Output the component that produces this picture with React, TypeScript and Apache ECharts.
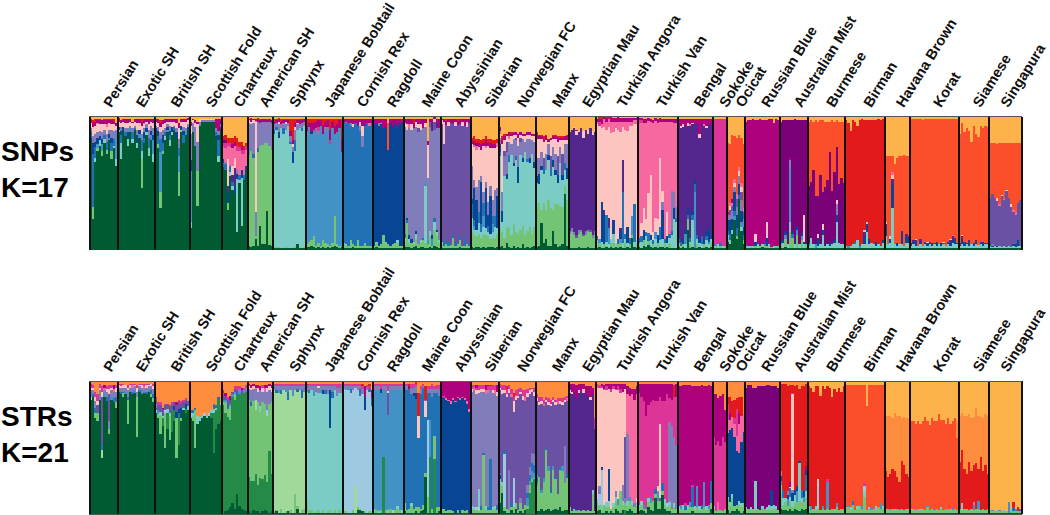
import React, { useEffect, useRef } from "react";
import * as echarts from "echarts";

const breeds = ["Persian","Exotic SH","British SH","Scottish Fold","Chartreux","American SH","Sphynx","Japanese Bobtail","Cornish Rex","Ragdoll","Maine Coon","Abyssinian","Siberian","Norwegian FC","Manx","Egyptian Mau","Turkish Angora","Turkish Van","Bengal","Sokoke","Ocicat","Russian Blue","Australian Mist","Burmese","Birman","Havana Brown","Korat","Siamese","Singapura"];
const sampleCounts = [12,16,15,14,11,11,14,16,13,13,16,13,12,16,14,12,18,17,15,6,8,15,12,16,17,11,21,13,14];

// Clusters, listed from the bottom of each bar to its top.
const snpColors = ["#005a32","#74c476","#7bccc4","#4292c6","#2171b5","#084594","#807dba","#6a51a3","#54278f","#fcc5c0","#f768a1","#dd3497","#ae017e","#7a0177","#e31a1c","#fc4e2a","#feb24c"];
const strColors = ["#005a32","#238b45","#74c476","#a1d99b","#7bccc4","#9ecae1","#4292c6","#2171b5","#084594","#807dba","#6a51a3","#54278f","#fcc5c0","#f768a1","#dd3497","#ae017e","#7a0177","#e31a1c","#fc4e2a","#fd8d3c","#feb24c"];

// One string per run of bars: "count:" + cluster letter + percent. A run without count fills the breed.
const snpSamples: string[][] = [
["a84e4g3j4m2o1q2","a23b9e40f8g5j7m3o2q3","a66c3e8f4g6j6m3o2q2","a74b2d3f5g4j6k1m2o1q2","a78c4f3g4j5m3o1q2","a70b4d5f4g5j6m3q3","a80c3e3g4j4m3o1q2","a72b3e6g6j5k2m3o1q2","a82d2f3g3j5m2o1q2","a68b6e6f4g6j4m3o1q2","a76c2e5g6j5m2o2q2","a63c5d20g2j3m2q5"],
["a88c2f2j4m2o1q1","a68c12e6f3g3j3m2q3","a90f2j4m2q2","a85e3g3j4m3q2","a78c5f5g3j4m3q2","a88d3g2j3m2q2","a80c3e5g3j4m1q4","a90e1g2j3m2q2","a76c4f6g4j5m3q2","a84d3f3j5m3q2","a46b22c6e8g5j6m3o2q2","a80e4f4g3j3k1m3q2","a86c2f3g3j2m2q2","a70c6e8g6j4m4q2","a82d4f3g4j3m2q2","a66c6d10f4g5j4m3q2"],
["a88f3g2j3m2q2","a76b3e6f4g3j3m3q2","a31b12d30e10g5j4m3o2q3","a72b2e6f6g4j4m3q3","a82c3e3g3j4m3q2","a88d2f2g2j2m2q2","a78c4e4f3g4j3m2q2","a86c2f4j4m2q2","a90e2g1j3m2q2","a84f4g3j4m3q2","a40b18d12e6g7j8m4q5","a88c2f3j3m2q2","a80e6f3g3j4m2q2","a86d3g2j5m2q2","a90f2g2j3m2q1"],
["a16c5d38f8g20j6m3q4","a88g7j2m1q2","a78g14j3m2q3","a33b26g22j13m2q4","a93g3j2q2","6:a96g1j1q2","a85e3g3m7q2","a66c4e12f4g3m9q2","a90f2g2m4q2","a69c3e14g4m8q2","a88g3m7q2"],
["a62e3f3k9l3n2o3q15","a60e4g2k10l4n2o4q14","a30b5f8i5j20k10l2o4q16","a55c3e5k14l3o4q16","a45c3e3i5j7k13m3o5q16","a42i13f6j8k9m3o4q15","a13c40f4g3k14l4o6q16","a50c2e4k18l3o4q19","a18c36f6k12l3m3o3q19","a52e4k16l3o3q22","a60f3k12l3o2q20"],
["a3b68g24j2m1q2","a2b72d2g18j2m2o1q1","a3b66e3g23j2m1q2","a8b2j66g18k1m1q2","a3b70e3g20m2o1q1","a18b60g17m2o1q2","a4b74g17m2q2","a4b76g16m2q2","a29b51g16m1o1q2","a3b74g18m2q2","a3b72g20m2q3"],
["a1b1c85e3g4m2o2q2","a1b1c88e2g3m2o1q2","a1b1c82f4g6j2m2o1q1","a1c90g3m2o2q2","a1c86e4g4m2o1q2","a1b1c88g4j2m1o1q2","a1c92g2m2o1q2","a1c78e2g4m4o9q2","a1c64f8g4j2m3o16q2","a1b1c72e8g8j2m3o3q2","a4c86g4j1m2o1q2","a1c90g3m3o1q2","a1c88e2g4m2o1q2","a1b1c91g3m2q2"],
["a2b2d82g3m4o5q2","a2b4d84g2m3o3q2","a3b4d80f2m6o3q2","a2b8d76g2l2m5o3q2","a1b2d86g2m5o2q2","a2b3d82g2l3m5o1q2","a1b2d90m4o1q2","a2b5d80m6o5q2","a1b4d84g3m4o2q2","a2b2d88m5o1q2","a1b2d76l3m8o8q2","a2b3d86m5o2q2","a3b22d62m6o5q2","a2b2d84m6o4q2","a1b2d88m6o1q2","a2b1d70m10o15q2"],
["a1b3c1e90m3q2","a1b2c1e91g1m2q2","a1b2e92m3q2","a1b6e86g2m3q2","a2b2e88j2m4q2","a1b2e92m3q2","a1b6e86m5q2","a1b2e86g4j3m2q2","a1b2e74g8j8m5q2","a1b4e88m5q2","a1b2e92m3q2","a1b2e90k2m3q2","a1b2e92m3q2"],
["a1b2f91m4q2","a2b3c1f88m4q2","a1b2f90g2m3q2","a1b3f90k1m3q2","a1b10f80m7q2","a1b4c1f86m6q2","a1b3f71p20q5","a1b2f92m3q2","a1b3f88m6q2","a1b4f89m4q2","a1b4c2f86m5q2","a1b2f91m4q2","a1b2f92m3q2"],
["a2b3c4e3g80j3m3q2","a2b18e2f2g66j4m4q2","a2b3c3f3g80k3m4q2","a1b4f3g82j4m4q2","a2b2c2g85m4o3q2","a3b5c4f2g78j4m2q2","a1b3g84h3j3m4q2","a2b3c2g83j4m4q2","a2b5e2g82m7q2","a1b4c43d2g42j3m3q2","a1b3d3g46j24q18m3","a2b8c4g78h4m2q2","a1b2d5f3g78i6m3q2","a3b12c6e3g66h6j2m2","a2b8c3f2g76i5m2q2","a1b4c2g84m7q2"],
["a1b3c2e2h86j3m1q2","a1b2e2h74j17m2q2","a1b3e2h86m3o1q2","a1b2e3h87j3m2q2","a1b2h90m3q2","a1b8e3h82m4q2","a1b2e2h88j3m2q2","a1b3e1h88m3o1q2","a2b5e3h84m4q2","a1b2h90j3m2q2","a1b2e6h84m5q2","a1b3h88j4m2q2","a1b2e2h90m3q2"],
["a2b12c10e10f4g25j16m2o3q16","a1b10c4d3e5f25g6j25k2m3o4q15","a2b8c5f22g10j28k3n2o3q17","a2b10c8e8g24j25m3o3q17","a1b8c4e6f32g4j20m4o3q18","a2b9c6d8e10g8j35m2o3q17","a1b10c5f30g5j25k2m4o3q15","a2b8c3e5f8g10j42m2o3q17","a2b6c4f28g8j28m4o3q17","a2b7c4d6e6g12j39m3o3q18","a1b8c8e8g20j31m3o3q18","a2b10c4f24g6j31k3o3q17"],
["a2b14c54e3f6g5j3k2m2o1q8","a3b10c8f8g14j36m3o3q15","a1b8c46g15h4j8m3o2q13","a5b12c36f4g16h8j4m2q13","a2b14c50e5g10j2k2m3q12","a1b10c60g8j6m2o1q12","a3b16c44f2g18j3m2q12","a1b12c54e3g12h2j2m2q12","a2b10c38f12g16j6m3q13","a1b14c56g10h3j2m2q12","a4b14c48f3g14j2m2q13","a1b10c62g8j4m2q13","a2b12c52e2g15j3m2q12","a1b16c48f4g14j3m2q12","a2b10c60g10j3m2q13","a3b14c44f5g15j4m2q13"],
["a2b30c18f5g14j14m3o2q12","a3b32c14f8g12j14m2o1q14","a20b10c30f3g10j10m2o1q14","a5b30c22e4h8j12m2o2q15","a8b22c30g12j10m3o1q14","a3b34c30f4g8j2m2q17","a3b28c24e5h10j12m2q16","a14b16c32f5g10j6m2o1q14","a4b30c22f4g12j11m2o1q14","a2b32c16f6h14j11m3o1q15","a3b30c32g12j5m2o1q15","a4b28c20f4h16j10m2o1q15","a42b6c12e5g14j3m3q15","a3b34c16f8g18j3m3o1q14"],
["a1b10c1g2i74q12","a1b12g3i74q10","a1b10g2i78j1q8","a1b8h2i75j3m1q10","a2b10g3i73j1q11","a1b12g2i76q9","a1b9h2i72j5q11","a1b10g3i76q10","a2b11g2i72j3q10","a1b12h2i76q9","a1b8g2i75j3q11","a1b10g3i74q12"],
["a1b2c4e3j84k2m2q2","a2b3d3j85l3m2o2","a1c5f30j55k3m4o2","a1b3f22i4j62k6m2","a2b1c3e20j64k6m3o1","a1c3d12i8j68k6o2","a2b3c3j78k8m4","a1b4c7f10j66k8m3q1","a2c3j86k5m3q1","a1b3e4j82k6m4","a2b3d3f5i3j72k8m3q1","a1c4e38i24j25k4m3q1","a1b4c3e4j78k6m3q1","a2c3f12j72k7m3q1","a1b3e5j84k3m3q1","a9b2d14j68k3m3q1","a2c4e28j60k3m2q1","a1b3c3j87k3m2q1"],
["a2b3e4k86l2m2q1","a1c5e4j10k75l2m2q1","a3b4f8j16k64m3q2","a2c8e3j10k72m3q2","a3b3e6j30k53m2q1","a2c5f4j45k40m2q2","a1b3e3j6k82m2q3","a2c6d5j10k72m2q1","a1b4f6j12k72m3q2","a2c5e10j52k27m3q1","a2c6f22g6j8k52m2q2","a1b4e3k88m2q2","a2c3f5j18k68m2q2","a1b3c5e3k84m2q2","a1c10e3g30k52m2q2","a1c22g12f8k52m3q2","a1c20e3g8k63m3q2"],
["a2b3e3i87m3q2","a1c2e3i85j2m5q2","a2b2f4i84j2m4q2","a1c3d8f3i78m5q2","a15b8e3f5i62j2m3q2","a1b3c2e3i84k1m4q2","a2c20e4f3i65j1m3q2","a1d42e6f3i42m4q2","a1b3c4e3i83m4q2","a2c3f3i76j3m11q2","a1c3e6i84m4q2","a1b3f3i86k1m4q2","a2c5e3f3i78j2m5q2","a1c3f10d2i78m4q2","a2b3c3f3i83m4q2"],
["a1c2e1l94q2","a1b2g1l94q2","a1c3l94q2","a1b2e2l93q2","a1c2l95q2","a1b2l95q2"],
["a6b3c2e3f8g3p52m1l2q20","a4c3e5f10h4g4j3k2p44q21","a12c3f8g6h4k2m3p48q14","a22d3e4f14g4j3k3p32q15","a8b2e6f10h6g6k4p42q16","a38e3f8g6j4k3p24q14","a14c3d4f8g8h6j4k3p34q16","a4b3e4f6g6h5k3p48q21"],
["a1b2e1m92q4","a1c2m94q3","a1b1c1m94q3","a1c2m95q2","a1b2j6f3m85q3","a1c3m93q3","a1b2m95q2","a2c2m93q3","a1b2d1m93q3","a1b2j12f6m76q3","a1c3m94q2","a1b1m96q2","a1c2m92q5","a1b2m95q2","a1b2m94q3"],
["a1b3e2n90q4","a1c4f2n90q3","a2b6d3f3n83q3","a1c3n93q3","a1b12c8d40g6m2n28q3","a1b8e3f2n83q3","a1c3f2n92q2","a1b10d4f3n79q3","a1c3n93q3","a1b6d3f3n84q3","a1c3j20f2n71q3","a1b3n93q3"],
["a1c2d1n44p48q4","a1c8n42p46q3","a1c3n56p36q4","a1d3n36p57q3","a1c2f6j3n28p56q4","a1c3n52p41q3","a1c10j4f4n24p54q3","a1c2n44p49q4","a1c3n48p44q4","a1c2f2n68p23q4","a1c3n40p53q3","a1c4f3n50p38q4","a1c20g8j3f5n40p20q3","a1c4n44p47q4","a1c3n50p42q4","a1c3n46p46q4"],
["a1c2o94q3","a1d2o92q5","a1c2o86q11","a1c3o93q3","a1c3e2o90q4","a1c6o86q7","a1d2o94q3","a1c3o94q2","a1c3f6i3j2o82q3","a1c12f6j2o76q3","a1c3f4o89q3","a1c4o92q3","a1c3o93q3","a1c2f3o91q3","a1c3o94q2","a1c2o94q3","a1c4f2o91q2"],
["a1c9f6i3j2p49q30","a1c3p66q30","a1c4f3j2p60q30","a1c30f18i4j3k2p12q30","a1c3p60q36","a1c2f2p64q31","a1c3p66q30","a1c3f8i2p56q30","a1c2p68q29","a1c4f4i3p58q30","a1c4f5p60q30"],
["a1c2f1i1p93q2","a1c3f2i1p91q2","a1c2f3j1i1p90q2","a1c2p95q2","a1c3f2i2p90q2","a1c2p94q3","a1c3i1f1p93q2","a1c2f2j1p92q2","a1c3f1i1p92q2","a1c2i1f1p93q2","a1c3f1p93q2","a1c2f2i1p92q2","a1c3p94q2","a1c2f1i1p93q2","a1c3f1j1p92q2","a1c2p95q2","a1c3f1i1p92q2","a1c2f3i1j1p90q2","a1c4f2i3k1p87q2","a1c3f3i2p89q2","a1c3f1p93q2"],
["a1c2f1i1p82q13","a1c3f4i2j1p84q5","a1c2f1i2p82q12","a1c3f1p86q9","a1c2f3i1p82q11","a1c3p77q19","a1c2f1i1p88q7","a1c3f2i1p80q13","a1c2p80q15","a1c3f1i1p87q7","a1c2f1i2p85q9","a1c3f1p88q7","a1c3f1p87q8"],
["a1c2f1h35p41q20","a1c1f1h38g1p38q20","a1c2h36p41q20","a1c1f1h34j2p41q21","a1c2h30k1p46q20","a1c1h38j1p39q20","a1c2h34k1p42q20","a1c1h42j1p35q20","a1c2h36p41q20","a1c1h30j2p46q20","a1c2f1h24k2p50q20","a1c1f2h22k2p52q20","a1c2f4h28p45q20","a1c2h34p43q20"],
];

const strSamples: string[][] = [
["a86d2g2j3m2o2r1t2","a88h2j3m2o2t3","a72c4h4j5m3o4t8","a70c6k6m3o5t10","a86g3j4m2o3t2","a42d6h4k36m4o4t4","a88g2j3n2p2t3","a85h3j4m2o2t4","a60c4k20j6m4o3t3","a86g3j4m2o2t3","a84h3j5n2p3t3","a80c4h4j4m3o2t3"],
["a92g1j2m2o1t2","a90h2j3m1o2t2","a88c3h1j3m2o1t2","a90g2j3m2t3","a68c18h2j5m2o2t3","a92j3m2o1t2","a90h2j3n2o1t2","a91g2j3m1o1t2","a58c30j4m3o2t3","a92h1j3m1o1t2","a90g3j2m2o1t2","a91j3n2o2t2","a90h2j3m2o1t2","a92g1j3m1o1t2","a88c2h3j3m2t2","a84c3h3j4m2o2t2"],
["a76e2h2j3k3o1r1t12","a72c3g3k4o2t16","a60c14e3k5o2t16","a66b6e2k5p1t20","a50c26f2k4o1t17","a64b12e3k4t17","a56c18e2k5o1t18","a62b16k4o2t16","a70b8i3k3t16","a42c30i5k5p2t16","a52b24i3k5o2t14","a70c2i8k3o2t15","a78e2k4o2t14","a76b3i4k3o1t13","a78e3k4t15"],
["a72e2f2h2t22","a70c4h2e2t22","a50c28h2t20","a68e6t26","a70e3t27","a72e2t26","a74f2t24","a72e2t26","a74f2t24","a72b4e2t22","a46b30e3h3o1t17","a64b14e2h2t18","a68b18h2t12","a70b12e2t16"],
["b82c2g2k3o2r2t7","a2b74c8g2k3p2t9","a3b70c6h3k4o2t12","a5b66c10g2k3p3t11","a8b80g2k2t8","a4b82c4g2k2o2t4","a15b74h2k2o3t4","a6b84g2j2o2t4","a4b86k3p2t5","a3b88j2o2t5","a2b90g1j2o2t3"],
["a2b26c58g2j6m2o1p1t2","a1b24c56h3j9m2p2t3","a3b22c60j9m2p2t2","a2b28c48d8j8n1p2t3","a2b20c62j8m3p2t3","a1b26c50e4j12p3t4","a2b24c58j8m3o2t3","a3b26c54j9n3p2t3","a2b22c50f4j14m3p2t3","a1b46c36j10m3p2t2","a2b28c54j8m3p2t3"],
["a1c2d90j3o2t2","a2c1d88h2j3o2t2","a1d90g2j3o2t2","a1c3d86h3j3o2t2","a1d92j3o2t2","a1c1d90g2j2o2t2","a2d84h6j4o2t2","a1c2d90j3o2t2","a1d88g4j3o2t2","a1c14d78j3o2t2","a4c2d86h2j2o2t2","a1d92j3o2t2","a1c2d84h6j3o2t2","a1c3d88j4o2t2"],
["c10e82j3o2r1t2","a1c2e88h2j3o2t2","a1c2e90j3o2t2","a1e88g3j4o2t2","a1c1e90j4o2t2","a1c2e88j4m1o2t2","a1e90g2j3o2t2","a1c2e87i3j3o2t2","a1e89h3j3o2t2","a1c1e88j6o2t2","a1c2e62i28j3o2t2","a1e86h5j4o2t2","a1c2e90j3o2t2","a1e88j6o3t2","a1c2e88j4o3t2","a1e90j5o2t2"],
["a1c1f92j2o2t2","a1c1d1f90j3o2t2","a1f92g2j1o2t2","a1f90h3j2o2t2","a1c2f90j3o2t2","a1d20f74j1o2t2","a3c2f88j3o2t2","a3c1f84h5j2o2t2","a2f88j4o2r2t2","a1c1f76i10p8t4","a1f92j2o2t3","a1c1f90h2o2r2t2","a1f80h6p6u7"],
["a1c1e2g90j2o2t2","a1c2g90j3o2t2","a1e1g91j3o2t2","a1c2g88i3o4t2","a1b42g50j3o2t2","a1c2g89j4o2t2","a1e2g70k16m2o5t2","a1c3g89j3o2t2","a1d2g90j3o2t2","a1c2g90j3o2t2","a1c3e2g87j3o2t2","a1c2g90j3o2t2","a1e2g89j4o2t2"],
["a2c4e2h86j2o2t2","a1c2h90j3o2t2","a1c3h88k2p2r2t2","a1c5e2h82j5o3t2","a1c3h85i2j4o3t2","a2c3h80i4j5o2r2","a1c4h50m16r16t9","a2c2h86j4o2t4","a3c4h88j1o2t2","a28c3h42r10m12o1t4","a1c12f58h20j3o2t4","a1b42g28h20j3o2t4","a1c3h84j6o4t2","a1b40c18h32j3o2t4","a1c4h86j3o3t3","a2c3h84j5o3t3"],
["a1c2e1i84o1p10t1","a1c3i82o2p11","a1c1i84n1p12t1","a1c2i82n1p13t1","a1c2i80n2p15","a1c1i84n1p13","a1i83n1p14t1","a1c2i84n1p12","a1i85n1p12t1","a1c2i84o1p12","a1c1i84n1p13","a1c2i80n2p15","a1i76n2p21"],
["a1c3e2j86m2o3t3","a1c2e2j88n2o2t3","a1c2f2j85m3o2p2t3","a1c1d3e14j72m2o4t3","a1c2j86h3m2o3t3","a1c43h2j46m2o3t3","a1c2e3j84n3p4t3","a1c2h2j86n2o3p1t3","a1c2h38j52o3r1t3","a1c2e2j86m2o4t3","a1c3e2j84n3o4t3","a1c2j82h4m3p5t3"],
["a8c14e4k62i3j2m2o3t2","a16c5e3k66m3o4t3","a2c3h2f40k44m2o4t3","a1c3k84m2o4r2t4","a1c2j30k58m3o3t3","a3c2h3k80n2o4t6","a1c4k50f22m8o3r3t9","a4c4k78m3o4t7","a1c2k84m2o5t6","a2c6k78j4m2o3t5","a1c3k82m3o4t7","a3c4k78n3o5t7","b4c2g6h4j6k66m3o3t6","b16c6h4g3j6k55m3o2t5","b24c2g6h6j8k46m2o1t5","b26c1g4h6j8k44m3o3t5"],
["a2c20h3g2k56j2m2o3t10","a2c26h2k52m2o4t12","a4c12g2k65m2o3t12","a2c22g3k54n2o3t14","a3c45h2k34m2o2t12","a4c28g4k46m2o3t13","a2c14h3k62m2o3t14","a3c30g3k48m2o2t12","a4c22h2k54m2o2t14","a3c12k68n2o2t13","a5c28h2k48m2o2t13","a2c30g4k46m2o3t13","a3c20j28k33m2o2t12","a3c24h3k55n2o2t11"],
["a1c2e2l86m2p5t2","a1c1l88m2p6t2","a1c2e1l88p6t2","a1c1g1l84p10t3","a1c2l88m2p5t2","a1c1l90p6t2","a1c2l88m3p4t2","a1c1l88p6t4","a1c2l86p7t4","a1c1l84m2p8t4","a1c14e3l72p5t5","a1c1l62o8t28"],
["a2c6e3m84n1o2t2","a3c4f8j6m74o2t3","a1c3e3f26i2m60o1p2t2","a1c6m86n1p3t3","a2c3e4m84o3p2t2","a1c4e3i24f2m60p4t2","a2c2m88o2p4t2","a1c4e3m86o2p2t2","a4c6e3j4m76o1p4t2","a2c5g4m82o3p2t2","a1c16m74o3p4t2","a3c4e3j12m70p6t2","b3c5j4k46m36p4t2","a2c4e4j50n30p6t4","a4c6g3n76p6t5","a2c5e3n80p4t6","a1c4j3n78p8t6","a1c5e3n78m3p6t4"],
["a2c3e2o84p7t2","a3c4e3o78p10t2","a2c2g3o78p13t2","a1c3o70p24t2","a5c4e3o70p16t2","a3c5g4o72p14t2","a2c8o76p12t2","a12c3h4o66p13t2","a4c6g4j3m4o64p13t2","a4c6k2m56o20p10t2","a14c3h6o62p13t2","a4c3e4o74p13t2","a2c3f3o82p8t2","a2c4e3j60o18p11t2","a1c3j62o20p12t2","a1c4e3j50o30r9t3","a1c3j48o36p10t2"],
["a1c2e3p90t4","a1c3g3p89t4","a1c2e4p90t3","a1c2h3o2p89t3","a1c3e3p90t3","a1c4g4p88t3","a2c3h15o2p74t4","a1c2e3p90t4","a1c4g16p75t4","a1c2e3p90t4","a1c3h3p90t3","a1c4g19p72t4","a1c2e3p90t4","a1c3g3p90t3","a4c4h17p71t4"],
["a1c3e2o52p32t10","a1c1o50p38t10","a1c2n6o46p32t13","a1c2o48p38t11","a1c1o56p32t10","a1c3o50p24t22"],
["a3c8e2i48n10o12r5t12","a1c6e2i54n8r12p5t12","a2c10e3i50n8r12t15","a2c4i52n10o4r14t14","a4c3i40n12o20r8t13","a2c5e3i36n22p8r12t12","a1c4e3i46n20r14t12","a2c6i54n14t24"],
["a1c2e2q90t5","a1c3q93t3","a1c2e2q92t3","a1c3q91t5","a1c2e22q70t5","a1c3q92t4","a1c2q93t4","a1c3e2q90t4","a1c3q92t4","a1c2e2q92t3","a1c3e3q90t3","a1c2e3i12q78t4","a1c3e3q89t4","a1c3e2q90t4","a1c2q92t5"],
["a4c12e6g3i4n4r67t2","a3c4e5h6r80t2","a3c6e3r86t2","a2c4g5i3j3r79t4","a4c6e3h6m1p4r72t3","a2c3e5i6j2m72o1r6t3","a4c4e6i4r78t4","a3c6g8i4r76t3","a2c8e28i2r54t6","a4c5e3h6r78t4","a3c6g4i4r79t4","a4c8e5h12i3p4r62t2"],
["a1c3e2i1r89u4","a1c2g3r89u5","a1c3r88u8","a1c2e3r90u4","a1c3f18m4r70u4","a1c2r86u11","a1c3g2r90u4","a1c2r91u6","a1c3g20o2r70u4","a1c2r92u5","a1c3r84u12","a1c3r90u6","a1c4g3r84u8","a1c2r92u5","a1c3r88u8","a1c3r92u4"],
["a1c3e1s92u3","a1c4g2s90u3","a1c2e2s92u3","a1c6h3s87u3","a1c2s94u3","a1c3e2s91u3","a1c5s91u3","a1c3g3s90u3","a1c12e4f4o2s74u3","a1c2s78u19","a1c3e1s92u3","a1c2g2s92u3","a1c3s93u3","a1c2e3s91u3","a1c4s92u3","a1c3g4s89u3","a1c3e2s91u3"],
["a1c2e1r28t42u26","a1c3r24t46u26","a1c2g1r26t44u26","a1c3r30t38u28","a1c2e1r28t44u24","a1c3r24t46u26","a1c2g1r20t50u26","a1c3r36t32u28","a1c2r34t36u27","a1c3r26t42u28","a1c2e1r24t44u28"],
["a1c2e1s66u30","a1c3s66u30","a1c2g1s64u32","a1c3s66u30","a1c2e1s64u32","a1c3s66u30","a1c2s70u27","a1c4g2s63u30","a1c2s64u33","a1c3s68u28","a1c2g1s66u30","a1c3s66u30","a1c2s72u25","a1c3e1s66u29","a1c2s68u29","a1c3s64u32","a1c2n1s68u28","a1c3s64u32","a1c2g2s65u30","a1c3s68u28","a1c2s54t14u29"],
["a1c3r35t35u26","a1c2e5r40t28u24","a1c3r30t40u26","a1c3r26t44u26","a1c2r36t36u25","a1c3r28t40u28","a1c2g4n2r28t36u27","a1c3r34t42u20","a1c3g6r24t40u26","a1c2r40t30u27","a1c3r28t40u28","a1c2r34t38u25","a1c3r26t44u26"],
["a1c1e1u97","a1c1g1u97","a1c1u98","a1c1e1u97","a1c1g1u97","a1c1u98","a1c1e1u97","a1c1u98","g8a1u91","a1c1e2u96","a1c1h3r4u91","a1c1g2u96","a1c1r3u95","a1c1h2u96"],
];

function parseColumn(text: string, colors: string[]) {
  const out = new Array(colors.length).fill(0);
  for (const m of text.matchAll(/([a-u])(\d+)/g)) out[m[1].charCodeAt(0) - 97] += Number(m[2]);
  const sum = out.reduce((a: number, b: number) => a + b, 0);
  return out.map((v: number) => (v * 100) / sum);
}

function expand(samples: string[][], colors: string[]) {
  const cols: number[][] = [];
  samples.forEach((runs, b) => {
    const list: number[][] = [];
    runs.forEach((run) => {
      const m = run.match(/^(\d+):(.*)$/);
      const n = m ? Number(m[1]) : 1;
      for (let i = 0; i < n; i++) list.push(parseColumn(m ? m[2] : run, colors));
    });
    for (let i = 0; i < sampleCounts[b]; i++) cols.push(list[Math.min(i, list.length - 1)]);
  });
  return cols;
}

const starts: number[] = [];
sampleCounts.reduce((acc, n) => { starts.push(acc); return acc + n; }, 0);
const total = sampleCounts.reduce((a, b) => a + b, 0);
const edgeSet = new Set(starts.concat([total]));
const labelAt = new Map(starts.map((s, i) => [s + Math.floor(sampleCounts[i] / 2) + (breeds[i] === "Singapura" ? -1 : 1), breeds[i]]));
const categories = Array.from({ length: total }, (_, i) => String(i));

function panel(samples: string[][], colors: string[], idx: number) {
  const cols = expand(samples, colors);
  return colors.map((c, k) => ({
    type: "bar", stack: "p" + idx, xAxisIndex: idx, yAxisIndex: idx,
    barWidth: "100%", silent: true,
    itemStyle: { color: c },
    data: cols.map((col) => col[k]),
  }));
}

function xAxis(gridIndex: number) {
  return {
    type: "category", gridIndex, position: "top", data: categories, boundaryGap: true, z: 5,
    axisLine: { show: true, onZero: false, lineStyle: { color: "#555", width: 1 } },
    axisTick: { show: false },
    axisLabel: {
      show: true, interval: (i: number) => labelAt.has(i), rotate: -58, margin: 11,
      fontFamily: "Liberation Sans", fontWeight: "bold", fontSize: 14.5, color: "#111",
      formatter: (_: string, i: number) => labelAt.get(i) ?? "",
    },
    splitLine: { show: true, interval: (i: number) => edgeSet.has(i), lineStyle: { color: "#111", width: 1.6 } },
  };
}
function yAxis(gridIndex: number) {
  return { type: "value", gridIndex, min: 0, max: 100, show: false };
}
function heading(top: number, lines: string[]) {
  return {
    type: "text", left: 1, top,
    style: { text: lines.join("\n"), fontFamily: "Liberation Sans", fontWeight: "bold", fontSize: 28, lineHeight: 36, fill: "#000" },
  };
}

export default function App() {
  const ref = useRef<HTMLDivElement>(null);
  useEffect(() => {
    document.body.style.margin = "0";
    const chart = echarts.init(ref.current!, null, { renderer: "svg" });
    const gridBase = { show: true, left: 89.5, width: 932, height: 133, outerBoundsMode: "none", borderColor: "#555", borderWidth: 1, backgroundColor: "transparent" };
    chart.setOption({
      animation: false,
      backgroundColor: "#fff",
      grid: [{ ...gridBase, top: 116.5 }, { ...gridBase, top: 381 }],
      xAxis: [xAxis(0), xAxis(1)],
      yAxis: [yAxis(0), yAxis(1)],
      graphic: [heading(133, ["SNPs", "K=17"]), heading(398, ["STRs", "K=21"])],
      series: [...panel(snpSamples, snpColors, 0), ...panel(strSamples, strColors, 1)],
    });
    return () => chart.dispose();
  }, []);
  return (
    <>
      <style>{"#root svg path{shape-rendering:crispEdges}"}</style>
      <div ref={ref} style={{ position: "fixed", left: 0, top: 0, width: 1050, height: 515 }} />
    </>
  );
}
